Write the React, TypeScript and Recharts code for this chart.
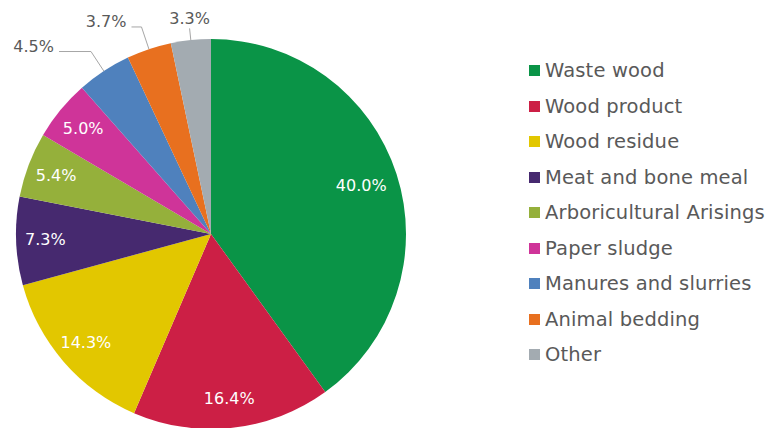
import React from 'react';
import { PieChart, Pie, Cell, Legend } from 'recharts';

const sources = [
  'Waste wood',
  'Wood product',
  'Wood residue',
  'Meat and bone meal',
  'Arboricultural Arisings',
  'Paper sludge',
  'Manures and slurries',
  'Animal bedding',
  'Other',
];
const shares = [40.0, 16.4, 14.3, 7.3, 5.4, 5.0, 4.5, 3.7, 3.3];
const colors = [
  '#0a9447',
  '#cc1f45',
  '#e2c700',
  '#46296f',
  '#95b03b',
  '#cf3499',
  '#4f81bd',
  '#e8701f',
  '#a3abb1',
];

const data = sources.map((name, i) => ({ name, share: shares[i] }));

// small slices get leader lines: how far out the elbow sits and how long the tail is
const leaders: Record<string, { reach: number; tail: number }> = {
  'Manures and slurries': { reach: 1.12, tail: 32 },
  'Animal bedding': { reach: 1.12, tail: 10 },
  Other: { reach: 1.06, tail: 0 },
};

const FONT = '"DejaVu Sans", Verdana, sans-serif';
const RAD = Math.PI / 180;

const renderLabel = (props: any) => {
  const { cx, cy, midAngle, outerRadius, payload } = props;
  const cos = Math.cos(-midAngle * RAD);
  const sin = Math.sin(-midAngle * RAD);
  const txt = `${payload.share.toFixed(1)}%`;
  const lead = leaders[payload.name];

  if (!lead) {
    const r = outerRadius * (payload.share > 30 ? 0.81 : 0.85);
    return (
      <text
        x={cx + r * cos}
        y={cy + r * sin}
        fill="#ffffff"
        fontSize={16}
        fontFamily={FONT}
        textAnchor="middle"
        dominantBaseline="central"
      >
        {txt}
      </text>
    );
  }

  const sx = cx + outerRadius * cos;
  const sy = cy + outerRadius * sin;
  const ex = cx + outerRadius * lead.reach * cos;
  const ey = cy + outerRadius * lead.reach * sin;
  const tx = ex - lead.tail;
  return (
    <g>
      <polyline
        points={`${sx},${sy} ${ex},${ey} ${tx},${ey}`}
        fill="none"
        stroke="#a6a6a6"
        strokeWidth={1}
      />
      {lead.tail > 0 ? (
        <text
          x={tx - 5}
          y={ey - 5}
          fill="#595959"
          fontSize={16}
          fontFamily={FONT}
          textAnchor="end"
          dominantBaseline="central"
        >
          {txt}
        </text>
      ) : (
        <text
          x={ex}
          y={ey - 10}
          fill="#595959"
          fontSize={16}
          fontFamily={FONT}
          textAnchor="middle"
          dominantBaseline="central"
        >
          {txt}
        </text>
      )}
    </g>
  );
};

const LegendList = () => (
  <div style={{ fontFamily: FONT, fontSize: 19.5, letterSpacing: 0.15, color: '#595959' }}>
    {sources.map((name, i) => (
      <div key={name} style={{ display: 'flex', alignItems: 'center', height: 35.5, whiteSpace: 'nowrap' }}>
        <span style={{ width: 11, height: 11, background: colors[i], marginRight: 5, flexShrink: 0 }} />
        <span>{name}</span>
      </div>
    ))}
  </div>
);

export default function App() {
  return (
    <div style={{ position: 'absolute', left: 0, top: 0, width: 765, height: 428, background: '#fff' }}>
      <PieChart width={765} height={428} margin={{ top: 0, right: 0, bottom: 0, left: 0 }}>
        <Pie
          data={data}
          dataKey="share"
          nameKey="name"
          cx={211}
          cy={234}
          outerRadius={195}
          startAngle={90}
          endAngle={-270}
          stroke="none"
          label={renderLabel}
          labelLine={false}
          isAnimationActive={false}
        >
          {data.map((d, i) => (
            <Cell key={d.name} fill={colors[i]} />
          ))}
        </Pie>
        <Legend
          content={() => <LegendList />}
          wrapperStyle={{ position: 'absolute', left: 529, top: 53, width: 236 }}
        />
      </PieChart>
    </div>
  );
}
